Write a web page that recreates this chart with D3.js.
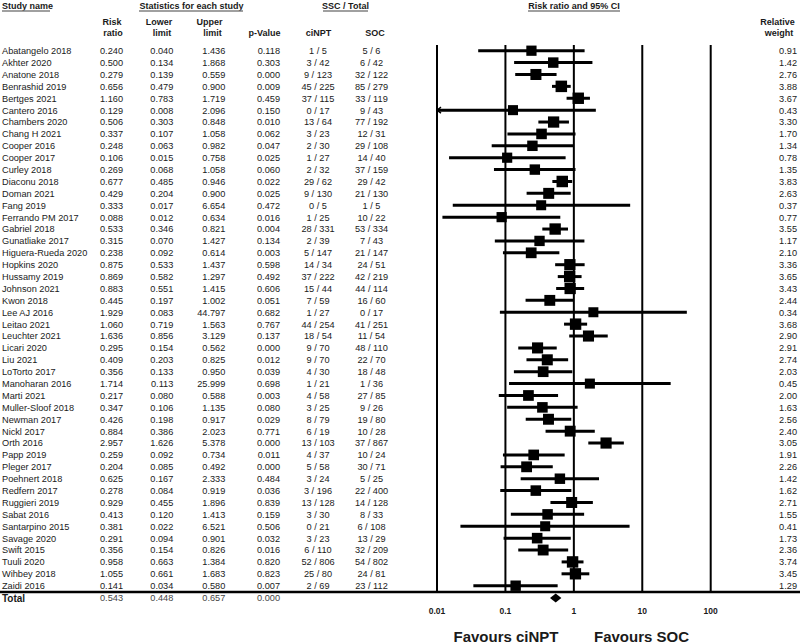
<!DOCTYPE html>
<html>
<head>
<meta charset="utf-8">
<script src="https://cdn.jsdelivr.net/npm/d3@7"></script>
<style>
  body { margin: 0; background: #fff; }
  svg { display: block; font-family: "Liberation Sans", Arial, sans-serif; }
</style>
</head>
<body>
<svg id="chart" width="800" height="644"></svg>
<script>
// ---- data ----
const studies = ["Abatangelo 2018","Akhter 2020","Anatone 2018","Benrashid 2019","Bertges 2021","Cantero 2016",
  "Chambers 2020","Chang H 2021","Cooper 2016","Cooper 2017","Curley 2018","Diaconu 2018","Doman 2021","Fang 2019",
  "Ferrando PM 2017","Gabriel 2018","Gunatliake 2017","Higuera-Rueda 2020","Hopkins 2020","Hussamy 2019","Johnson 2021",
  "Kwon 2018","Lee AJ 2016","Leitao 2021","Leuchter 2021","Licari 2020","Liu 2021","LoTorto 2017","Manoharan 2016",
  "Marti 2021","Muller-Sloof 2018","Newman 2017","Nickl 2017","Orth 2016","Papp 2019","Pleger 2017","Poehnert 2018",
  "Redfern 2017","Ruggieri 2019","Sabat 2016","Santarpino 2015","Savage 2020","Swift 2015","Tuuli 2020","Wihbey 2018","Zaidi 2016"];
const riskRatio = [0.240,0.500,0.279,0.656,1.160,0.129,0.506,0.337,0.248,0.106,0.269,0.677,0.429,0.333,0.088,0.533,0.315,
  0.238,0.875,0.869,0.883,0.445,1.929,1.060,1.636,0.295,0.409,0.356,1.714,0.217,0.347,0.426,0.884,2.957,0.259,0.204,0.625,
  0.278,0.929,0.413,0.381,0.291,0.356,0.958,1.055,0.141];
const lowerLimit = [0.040,0.134,0.139,0.479,0.783,0.008,0.303,0.107,0.063,0.015,0.068,0.485,0.204,0.017,0.012,0.346,0.070,
  0.092,0.533,0.582,0.551,0.197,0.083,0.719,0.856,0.154,0.203,0.133,0.113,0.080,0.106,0.198,0.386,1.626,0.092,0.085,0.167,
  0.084,0.455,0.120,0.022,0.094,0.154,0.663,0.661,0.034];
const upperLimit = [1.436,1.868,0.559,0.900,1.719,2.096,0.848,1.058,0.982,0.758,1.058,0.946,0.900,6.654,0.634,0.821,1.427,
  0.614,1.437,1.297,1.415,1.002,44.797,1.563,3.129,0.562,0.825,0.950,25.999,0.588,1.135,0.917,2.023,5.378,0.734,0.492,2.333,
  0.919,1.896,1.413,6.521,0.901,0.826,1.384,1.683,0.580];
const pValue = [0.118,0.303,0.000,0.009,0.459,0.150,0.010,0.062,0.047,0.025,0.060,0.022,0.025,0.472,0.016,0.004,0.134,
  0.003,0.598,0.492,0.606,0.051,0.682,0.767,0.137,0.000,0.012,0.039,0.698,0.003,0.080,0.029,0.771,0.000,0.011,0.000,0.484,
  0.036,0.839,0.159,0.506,0.032,0.016,0.820,0.823,0.007];
const ciEvents = [1,3,9,45,37,0,13,3,2,1,2,29,9,0,1,28,2,5,14,37,15,7,1,44,18,9,9,4,1,4,3,8,6,13,4,5,3,3,13,3,0,3,6,52,25,2];
const ciTotal = [5,42,123,225,115,17,64,23,30,27,32,62,130,5,25,331,39,147,34,222,44,59,27,254,54,70,70,30,21,58,25,79,19,
  103,37,58,24,196,128,30,21,23,110,806,80,69];
const socEvents = [5,6,32,85,33,9,77,12,29,14,37,29,21,1,10,53,7,21,24,42,44,16,0,41,11,48,22,18,1,27,9,19,10,37,10,30,5,
  22,14,8,6,13,32,54,24,23];
const socTotal = [6,42,122,279,119,43,192,31,108,40,159,42,130,5,22,334,43,147,51,219,114,60,17,251,54,110,70,48,36,85,26,
  80,28,867,24,71,25,400,128,33,108,29,209,802,81,112];
const relWeight = [0.91,1.42,2.76,3.88,3.67,0.43,3.30,1.70,1.34,0.78,1.35,3.83,2.63,0.37,0.77,3.55,1.17,2.10,3.36,3.65,
  3.43,2.44,0.34,3.68,2.90,2.91,2.74,2.03,0.45,2.00,1.63,2.56,2.40,3.05,1.91,2.26,1.42,1.62,2.71,1.55,0.41,1.73,2.36,3.74,
  3.45,1.29];
const total = { rr: 0.543, lower: 0.448, upper: 0.657, p: 0.000 };
const axisTicks = [0.01, 0.1, 1, 10, 100];

// ---- layout ----
const svg = d3.select("#chart");
const TEXT = "#1a1a1a";
const FS = 9.2;
const PLOT_TOP = 45, PLOT_BOTTOM = 592;
const f3 = d3.format(".3f");

const rows = studies.map((s, i) => ({
  name: s, rr: riskRatio[i], lo: lowerLimit[i], hi: upperLimit[i], p: pValue[i],
  ci: `${ciEvents[i]} / ${ciTotal[i]}`, soc: `${socEvents[i]} / ${socTotal[i]}`, w: relWeight[i]
}));

const yScale = d3.scalePoint().domain(studies).range([50.7, 585.7]);
const yTotal = 598;

const xScale = d3.scaleLog().domain([0.01, 100]).range([437, 710.7]);
const boxSize = d3.scaleLinear().domain(d3.extent(relWeight)).range([10, 11.5]);

// ---- header ----
const header = svg.append("g").attr("font-weight", "bold").attr("font-size", 9).attr("fill", TEXT);
const topHeads = [
  { t: "Study name", x: 2, a: "start", u: [2, 50] },
  { t: "Statistics for each study", x: 191.5, a: "middle", u: [139, 243] },
  { t: "SSC / Total", x: 345.5, a: "middle", u: [323, 368] },
  { t: "Risk ratio and 95% CI", x: 574, a: "middle", u: [528, 620] }
];
header.selectAll("text.top").data(topHeads).join("text")
  .attr("class", "top").attr("x", d => d.x).attr("y", 8.5)
  .attr("text-anchor", d => d.a).text(d => d.t);
svg.selectAll("line.ul").data(topHeads).join("line")
  .attr("class", "ul")
  .attr("x1", d => d.u[0]).attr("x2", d => d.u[1])
  .attr("y1", 11).attr("y2", 11)
  .attr("stroke", "#808080").attr("stroke-width", 1.6);

const subHeads = [
  ["Risk", 112, 25], ["ratio", 113, 36],
  ["Lower", 159, 25], ["limit", 162, 36],
  ["Upper", 209.5, 25], ["limit", 212.5, 36],
  ["p-Value", 264.5, 36],
  ["ciNPT", 318.5, 36], ["SOC", 375, 36],
  ["Relative", 777.5, 25], ["weight", 779, 36]
];
header.selectAll("text.sub").data(subHeads).join("text")
  .attr("class", "sub").attr("x", d => d[1]).attr("y", d => d[2])
  .attr("text-anchor", "middle").text(d => d[0]);

// ---- table columns ----
const cols = [
  { x: 2, a: "start", v: d => d.name },
  { x: 123, a: "end", v: d => f3(d.rr) },
  { x: 173.3, a: "end", v: d => f3(d.lo) },
  { x: 225.3, a: "end", v: d => f3(d.hi) },
  { x: 280, a: "end", v: d => f3(d.p) },
  { x: 318, a: "middle", v: d => d.ci },
  { x: 371.5, a: "middle", v: d => d.soc },
  { x: 797, a: "end", v: d => d.w.toFixed(2) }
];
const table = svg.append("g").attr("font-size", FS).attr("fill", TEXT);
cols.forEach(c => {
  table.append("g").selectAll("text").data(rows).join("text")
    .attr("x", c.x).attr("y", d => yScale(d.name) + 3.4)
    .attr("text-anchor", c.a).text(c.v);
});

// total row
const totalRow = svg.append("g").attr("font-size", FS).attr("fill", TEXT);
totalRow.append("text").attr("x", 2).attr("y", yTotal + 3.6)
  .attr("font-weight", "bold").attr("font-size", 10).text("Total");
[[123, total.rr], [173.3, total.lower], [225.3, total.upper], [280, total.p]].forEach(([x, v]) => {
  totalRow.append("text").attr("x", x).attr("y", yTotal + 3.4)
    .attr("text-anchor", "end").attr("fill", "#444").text(f3(v));
});

// ---- forest plot ----
svg.append("g").selectAll("line").data(axisTicks).join("line")
  .attr("x1", d => xScale(d)).attr("x2", d => xScale(d))
  .attr("y1", PLOT_TOP).attr("y2", PLOT_BOTTOM)
  .attr("stroke", "#000").attr("stroke-width", 2);

// separator above total
svg.append("line").attr("x1", 0).attr("x2", 800)
  .attr("y1", PLOT_BOTTOM).attr("y2", PLOT_BOTTOM)
  .attr("stroke", "#000").attr("stroke-width", 2.4);

const [dMin, dMax] = xScale.domain();
const marks = svg.append("g");
marks.selectAll("line.ci").data(rows).join("line")
  .attr("class", "ci")
  .attr("x1", d => xScale(Math.max(d.lo, dMin))).attr("x2", d => xScale(Math.min(d.hi, dMax)))
  .attr("y1", d => yScale(d.name)).attr("y2", d => yScale(d.name))
  .attr("stroke", "#000").attr("stroke-width", 3);

// arrow where the interval runs past the axis
marks.selectAll("path.arrow").data(rows.filter(d => d.lo < dMin)).join("path")
  .attr("class", "arrow")
  .attr("d", d => {
    const x = xScale(dMin), y = yScale(d.name);
    return `M${x + 4},${y - 3}L${x},${y}L${x + 4},${y + 3}`;
  })
  .attr("fill", "none").attr("stroke", "#000").attr("stroke-width", 1.4);

marks.selectAll("rect").data(rows).join("rect")
  .attr("x", d => xScale(d.rr) - boxSize(d.w) / 2)
  .attr("y", d => yScale(d.name) - boxSize(d.w) / 2)
  .attr("width", d => boxSize(d.w)).attr("height", d => boxSize(d.w))
  .attr("fill", "#000");

// summary diamond
const dx = xScale(total.rr), h = 4.6;
svg.append("path")
  .attr("d", `M${xScale(total.lower)},${yTotal}L${dx},${yTotal - h}L${xScale(total.upper)},${yTotal}L${dx},${yTotal + h}Z`)
  .attr("fill", "#000");

// tick labels
svg.append("g").selectAll("text").data(axisTicks).join("text")
  .attr("x", d => xScale(d)).attr("y", 614)
  .attr("text-anchor", "middle").attr("font-size", 8.5).attr("font-weight", "bold")
  .attr("fill", TEXT).text(d => d3.format("~g")(d));

// favours labels
svg.append("text").attr("x", 506).attr("y", 642).attr("text-anchor", "middle")
  .attr("font-size", 15).attr("font-weight", "bold").attr("fill", TEXT).text("Favours ciNPT");
svg.append("text").attr("x", 641.5).attr("y", 642).attr("text-anchor", "middle")
  .attr("font-size", 15).attr("font-weight", "bold").attr("fill", TEXT).text("Favours SOC");
</script>
</body>
</html>
